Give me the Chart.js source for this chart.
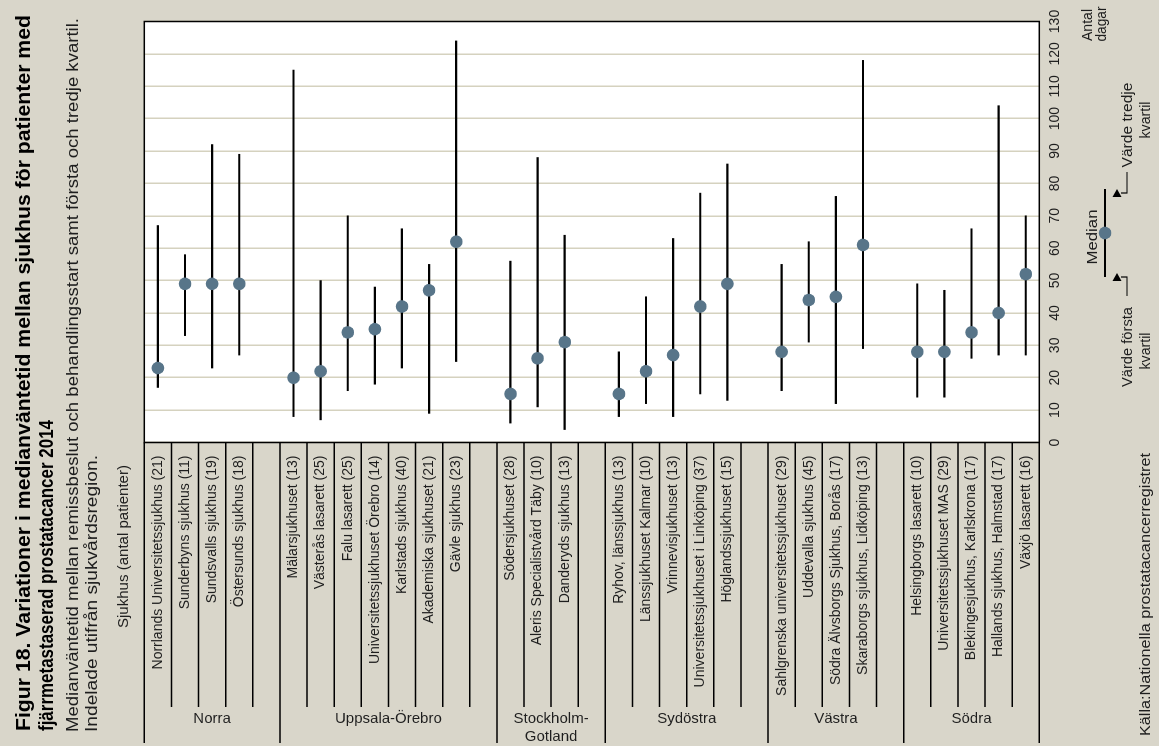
<!DOCTYPE html>
<html lang="sv">
<head>
<meta charset="utf-8">
<title>Figur 18 – medianväntetid per sjukhus</title>
<script src="https://cdn.jsdelivr.net/npm/chart.js"></script>
<style>
  html, body { margin: 0; padding: 0; width: 1159px; height: 746px; overflow: hidden; background: #d9d6ca; }
  /* the figure is built upright (portrait) and turned a quarter to the left */
  #page {
    position: absolute; left: 0; top: 0;
    width: 746px; height: 1159px;
    transform-origin: 0 0;
    transform: translate(0px, 746px) rotate(-90deg);
  }
</style>
</head>
<body>
<div id="page"><canvas id="chart" width="746" height="1159"></canvas></div>
<script>
// Data
const categories = [
  'Norrlands Universitetssjukhus (21)', 'Sunderbyns sjukhus (11)', 'Sundsvalls sjukhus (19)', 'Östersunds sjukhus (18)', '',
  'Mälarsjukhuset (13)', 'Västerås lasarett (25)', 'Falu lasarett (25)', 'Universitetssjukhuset Örebro (14)',
  'Karlstads sjukhus (40)', 'Akademiska sjukhuset (21)', 'Gävle sjukhus (23)', '',
  'Södersjukhuset (28)', 'Aleris Specialistvård Täby (10)', 'Danderyds sjukhus (13)', '',
  'Ryhov, länssjukhus (13)', 'Länssjukhuset Kalmar (10)', 'Vrinnevisjukhuset (13)',
  'Universitetssjukhuset i Linköping (37)', 'Höglandssjukhuset (15)', '',
  'Sahlgrenska universitetssjukhuset (29)', 'Uddevalla sjukhus (45)', 'Södra Älvsborgs Sjukhus, Borås (17)',
  'Skaraborgs sjukhus, Lidköping (13)', '',
  'Helsingborgs lasarett (10)', 'Universitetssjukhuset MAS (29)', 'Blekingesjukhus, Karlskrona (17)',
  'Hallands sjukhus, Halmstad (17)', 'Växjö lasarett (16)'
];
const firstQuartile = [17, 33, 23, 27, null, 8, 7, 16, 18, 23, 9, 25, null, 6, 11, 4, null, 8, 12, 8, 15, 13, null, 16, 31, 12, 29, null, 14, 14, 26, 27, 27];
const medianDays    = [23, 49, 49, 49, null, 20, 22, 34, 35, 42, 47, 62, null, 15, 26, 31, null, 15, 22, 27, 42, 49, null, 28, 44, 45, 61, null, 28, 28, 34, 40, 52];
const thirdQuartile = [67, 58, 92, 89, null, 115, 50, 70, 48, 66, 55, 124, null, 56, 88, 64, null, 28, 45, 63, 77, 86, null, 55, 62, 76, 118, null, 49, 47, 66, 104, 70];
const valueTicks = [0, 10, 20, 30, 40, 50, 60, 70, 80, 90, 100, 110, 120, 130];
const regionNames = [['Norra'], ['Uppsala-Örebro'], ['Stockholm-', 'Gotland'], ['Sydöstra'], ['Västra'], ['Södra']];
const regionSizes = [5, 8, 4, 6, 5, 5]; // categories per region, gap included

// Colours and fonts
const BG = '#d9d6ca';
const GRID = '#d5d2bf';
const DOT = '#587589';
const TXT = '#1e1e1e';
const FAMILY = "'Liberation Sans', Arial, sans-serif";

// draws text squeezed/stretched to a given width
function fitText(ctx, text, x, y, width, align) {
  const w = ctx.measureText(text).width;
  const sx = width ? width / w : 1;
  ctx.save();
  ctx.translate(x, y);
  ctx.scale(sx, 1);
  ctx.textAlign = align || 'left';
  ctx.fillText(text, 0, 0);
  ctx.restore();
}

const decor = {
  id: 'decor',
  beforeDraw(chart) {
    const { ctx, chartArea: a } = chart;
    ctx.save();
    ctx.fillStyle = BG;
    ctx.fillRect(0, 0, chart.width, chart.height);
    ctx.fillStyle = '#ffffff';
    ctx.fillRect(a.left, a.top, a.width, a.height);
    ctx.restore();
  },
  afterDraw(chart) {
    const { ctx, chartArea: a } = chart;
    const yScale = chart.scales.y;
    ctx.save();

    // plot frame
    ctx.strokeStyle = '#000';
    ctx.lineWidth = 1.5;
    ctx.strokeRect(a.left, a.top, a.width, a.height);

    // table lines between hospitals, longer ones between regions
    const step = yScale.getPixelForValue(1) - yScale.getPixelForValue(0);
    const b0 = yScale.getPixelForValue(0) - step / 2;
    const regionEdges = [0];
    regionSizes.forEach(n => regionEdges.push(regionEdges[regionEdges.length - 1] + n));
    for (let i = 0; i <= categories.length; i++) {
      const yy = b0 + i * step;
      const end = regionEdges.includes(i) ? 3 : 39;
      ctx.beginPath();
      ctx.moveTo(a.left, yy);
      ctx.lineTo(end, yy);
      ctx.stroke();
    }

    // region names
    ctx.fillStyle = TXT;
    ctx.font = '15px ' + FAMILY;
    ctx.textBaseline = 'middle';
    regionNames.forEach((lines, r) => {
      const mid = b0 + (regionEdges[r] + regionEdges[r + 1]) / 2 * step;
      lines.forEach((line, k) => {
        ctx.save();
        ctx.translate(27.5 - k * 18, mid);
        ctx.rotate(Math.PI / 2);
        ctx.textAlign = 'center';
        ctx.fillText(line, 0, 0);
        ctx.restore();
      });
    });

    // title and subtitle
    ctx.textBaseline = 'alphabetic';
    ctx.fillStyle = '#000';
    ctx.font = 'bold 19.5px ' + FAMILY;
    fitText(ctx, 'Figur 18. Variationer i medianväntetid mellan sjukhus för patienter med', 15, 30, 716);
    fitText(ctx, 'fjärrmetastaserad prostatacancer 2014', 15, 53, 311);
    ctx.fillStyle = TXT;
    ctx.font = '16px ' + FAMILY;
    fitText(ctx, 'Medianväntetid mellan remissbeslut och behandlingsstart samt första och tredje kvartil.', 14, 78, 714);
    fitText(ctx, 'Indelade utifrån sjukvårdsregion.', 14, 97, 277);

    // label column heading
    ctx.font = '14px ' + FAMILY;
    fitText(ctx, 'Sjukhus (antal patienter)', 118, 128, 163);

    // axis title
    ctx.font = '15px ' + FAMILY;
    fitText(ctx, 'Antal', 721, 1092, 32, 'center');
    fitText(ctx, 'dagar', 722, 1106, 35, 'center');

    // key: quartile line with median dot
    ctx.strokeStyle = '#000';
    ctx.lineWidth = 2;
    ctx.beginPath();
    ctx.moveTo(469, 1105);
    ctx.lineTo(557, 1105);
    ctx.stroke();
    ctx.fillStyle = DOT;
    ctx.beginPath();
    ctx.arc(513, 1105, 6.3, 0, Math.PI * 2);
    ctx.fill();

    ctx.fillStyle = '#000';
    ctx.lineWidth = 1.2;
    [[553, 574], [469, 450]].forEach(([x0, x1]) => {
      ctx.beginPath();
      ctx.moveTo(x0 + 4, 1117);
      ctx.lineTo(x0 - 4, 1112.5);
      ctx.lineTo(x0 - 4, 1121.5);
      ctx.closePath();
      ctx.fill();
      ctx.beginPath();
      ctx.moveTo(x0, 1121);
      ctx.lineTo(x0, 1127);
      ctx.lineTo(x1, 1127);
      ctx.stroke();
    });

    ctx.fillStyle = TXT;
    ctx.font = '15px ' + FAMILY;
    fitText(ctx, 'Median', 509, 1097, 55, 'center');
    fitText(ctx, 'Värde tredje', 621, 1132, 85, 'center');
    fitText(ctx, 'kvartil', 626, 1150, 37, 'center');
    fitText(ctx, 'Värde första', 399, 1132, 80, 'center');
    fitText(ctx, 'kvartil', 395, 1150, 37, 'center');

    // source
    fitText(ctx, 'Källa:Nationella prostatacancerregistret', 10, 1150, 283);

    ctx.restore();
  }
};

new Chart(document.getElementById('chart'), {
  type: 'bar',
  data: {
    labels: categories,
    datasets: [{
      type: 'line',
      label: 'Median',
      data: medianDays,
      indexAxis: 'y',
      showLine: false,
      pointRadius: 6.3,
      pointHoverRadius: 6.3,
      pointBackgroundColor: DOT,
      pointBorderWidth: 0,
      order: 0
    }, {
      type: 'bar',
      label: 'Första till tredje kvartil',
      data: categories.map((c, i) => firstQuartile[i] == null ? null : [firstQuartile[i], thirdQuartile[i]]),
      indexAxis: 'y',
      backgroundColor: '#000',
      barThickness: 1.5,
      order: 1
    }]
  },
  options: {
    indexAxis: 'y',
    responsive: false,
    animation: false,
    devicePixelRatio: 1,
    layout: { padding: { top: 144.3, right: 21.5, bottom: 89.7, left: 0 } },
    scales: {
      x: {
        type: 'linear',
        position: 'bottom',
        min: 0,
        max: 130,
        afterBuildTicks: s => { s.ticks = valueTicks.map(v => ({ value: v })); },
        afterFit: s => { s.height = 30; },
        grid: { color: GRID, lineWidth: 1.5, drawTicks: false },
        border: { display: false },
        ticks: { font: { family: FAMILY, size: 14 }, color: TXT, padding: 7, maxRotation: 0 }
      },
      y: {
        type: 'category',
        afterFit: s => { s.width = 303.5; },
        grid: { display: false },
        border: { display: false },
        ticks: { autoSkip: false, font: { family: FAMILY, size: 14 }, color: TXT, padding: 5 }
      }
    },
    plugins: {
      legend: { display: false },
      tooltip: { enabled: false }
    }
  },
  plugins: [decor]
});
</script>
</body>
</html>
